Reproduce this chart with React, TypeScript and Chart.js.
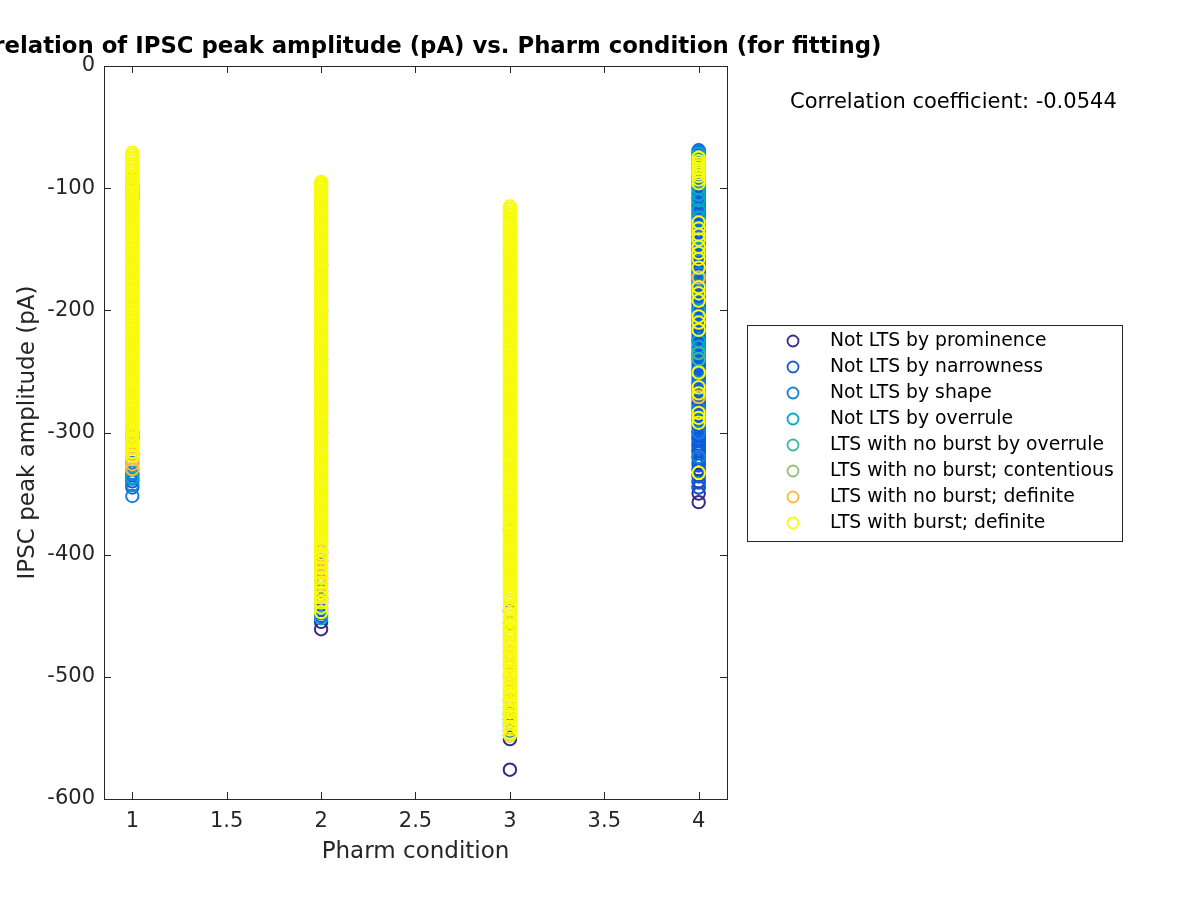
import React, { useEffect, useRef } from "react";
import { Chart, registerables } from "chart.js";

Chart.register(...registerables);

// ---------- data ----------
const seriesNames = [
  "Not LTS by prominence",
  "Not LTS by narrowness",
  "Not LTS by shape",
  "Not LTS by overrule",
  "LTS with no burst by overrule",
  "LTS with no burst; contentious",
  "LTS with no burst; definite",
  "LTS with burst; definite",
];
const seriesColors = [
  "#352a87",
  "#0f5cdd",
  "#1481d6",
  "#06a7c6",
  "#38b99e",
  "#92bf73",
  "#fbbc3c",
  "#f9fb0e",
];
const conditions = [1, 2, 3, 4];
const xTicks = [1, 1.5, 2, 2.5, 3, 3.5, 4];
const yTicks = [0, -100, -200, -300, -400, -500, -600];
const correlationText = "Correlation coefficient: -0.0544";
const chartTitle = "Correlation of IPSC peak amplitude (pA) vs. Pharm condition (for fitting)";
const xLabel = "Pharm condition";
const yLabel = "IPSC peak amplitude (pA)";

// Pharm condition 1
const prominenceC1 = [-300, -303];
const narrowC1 = [-100, -108, -305, -318, -335, -340, -345];
const shapeC1 = [-98, -106, -325, -333, -338, -343, -352];
const overruleC1 = [-103, -330, -337];
const noBurstOverruleC1 = [-104];
const contentiousC1 = [-110];
const noBurstDefC1 = [-92, -94, -117, -305, -312, -318, -322, -326, -330];
const burstC1 = [
  -71, -73, -75, -76, -78, -80, -82, -85, -86, -88, -90, -91, -94, -96, -97, -99, -101, -103, -105, -107,
  -108, -110, -112, -114, -116, -118, -119, -121, -123, -125, -127, -129, -131, -132, -134, -136, -138, -140,
  -141, -143, -145, -147, -149, -151, -153, -154, -156, -158, -160, -162, -164, -165, -167, -169, -171, -173,
  -175, -177, -178, -180, -182, -184, -186, -188, -189, -191, -193, -195, -197, -199, -200, -202, -204, -206,
  -208, -210, -212, -213, -215, -217, -219, -221, -223, -224, -226, -228, -230, -232, -234, -236, -237, -239,
  -241, -243, -245, -247, -248, -250, -252, -254, -256, -258, -260, -261, -263, -265, -267, -269, -271, -272,
  -274, -276, -278, -280, -282, -284, -285, -287, -289, -291, -293, -295, -296, -298, -300, -302, -305, -307,
  -310, -313, -316, -319,
];

// Pharm condition 2
const prominenceC2 = [-455, -461];
const narrowC2 = [-163, -398, -420, -436, -445, -450];
const shapeC2 = [-200, -240, -300, -405, -440, -448];
const overruleC2 = [-430, -452];
const noBurstOverruleC2 = [-415, -438];
const contentiousC2 = [-412];
const noBurstDefC2 = [-97, -277, -396, -400, -404, -407, -410, -414, -418, -425, -433];
const burstC2 = [
  -95, -97, -99, -100, -102, -104, -106, -108, -110, -112, -113, -115, -117, -119, -121, -123, -125, -126,
  -128, -130, -132, -134, -136, -138, -139, -141, -143, -145, -147, -149, -151, -152, -154, -156, -158, -160,
  -162, -164, -165, -167, -169, -171, -173, -175, -177, -178, -180, -182, -184, -186, -188, -190, -191, -193,
  -195, -197, -199, -201, -203, -204, -206, -208, -210, -212, -214, -216, -217, -219, -221, -223, -225, -227,
  -229, -230, -232, -234, -236, -238, -240, -242, -243, -245, -247, -249, -251, -253, -255, -256, -258, -260,
  -262, -264, -266, -268, -269, -271, -273, -275, -277, -279, -281, -282, -284, -286, -288, -290, -292, -294,
  -295, -297, -299, -301, -303, -305, -307, -308, -310, -312, -314, -316, -318, -320, -321, -323, -325, -327,
  -329, -331, -333, -334, -336, -338, -340, -342, -344, -346, -347, -349, -351, -353, -355, -357, -359, -360,
  -362, -364, -366, -368, -370, -372, -373, -375, -377, -379, -381, -383, -385, -386, -388, -390, -392, -395,
  -399, -402, -406, -411, -415, -419, -423, -428, -431, -435, -439, -443, -447,
];

// Pharm condition 3
const prominenceC3 = [-548, -551, -576];
const narrowC3 = [-446, -447, -535, -540];
const shapeC3 = [-380, -456, -520, -544];
const overruleC3 = [-530, -538];
const noBurstOverruleC3 = [-500, -535];
const contentiousC3 = [-490, -528];
const noBurstDefC3 = [-455, -462, -468, -474, -480, -486, -492, -498, -505, -512, -518, -525, -532];
const burstC3 = [
  -115, -117, -119, -121, -122, -124, -126, -128, -130, -132, -134, -135, -137, -139, -141, -143, -145, -147,
  -148, -150, -152, -154, -156, -158, -160, -161, -163, -165, -167, -169, -171, -173, -174, -176, -178, -180,
  -182, -184, -186, -187, -189, -191, -193, -195, -197, -199, -200, -202, -204, -206, -208, -210, -212, -213,
  -215, -217, -219, -221, -223, -225, -226, -228, -230, -232, -234, -236, -238, -239, -241, -243, -245, -247,
  -249, -251, -252, -254, -256, -258, -260, -262, -264, -265, -267, -269, -271, -273, -275, -277, -278, -280,
  -282, -284, -286, -288, -290, -291, -293, -295, -297, -299, -301, -303, -304, -306, -308, -310, -312, -314,
  -316, -317, -319, -321, -323, -325, -327, -329, -330, -332, -334, -336, -338, -340, -342, -343, -345, -347,
  -349, -351, -353, -355, -356, -358, -360, -362, -364, -366, -368, -369, -371, -373, -375, -377, -379, -381,
  -382, -384, -386, -388, -390, -392, -394, -395, -397, -399, -401, -403, -405, -407, -408, -410, -412, -414,
  -416, -418, -420, -421, -423, -425, -427, -429, -432, -434, -437, -440, -443, -445, -448, -451, -454, -457,
  -459, -462, -465, -468, -471, -473, -476, -479, -482, -485, -487, -490, -493, -496, -499, -501, -504, -507,
  -510, -513, -515, -518, -521, -524, -527, -529, -532, -535, -538, -541, -543, -546, -548,
];

// Pharm condition 4
const prominenceC4 = [-300, -305, -310, -315, -320, -325, -330, -335, -340, -345, -350, -357];
const narrowC4 = [
  -69, -71, -73, -75, -77, -79, -80, -82, -84, -86, -88, -90, -92, -94, -95, -97, -99, -101, -103, -105, -107,
  -108, -110, -112, -114, -116, -118, -120, -121, -123, -125, -127, -129, -131, -133, -134, -136, -138, -140,
  -142, -144, -146, -147, -149, -151, -153, -155, -157, -159, -160, -162, -164, -166, -168, -170, -172, -173,
  -175, -177, -179, -181, -183, -185, -186, -188, -190, -192, -194, -196, -198, -199, -201, -203, -205, -207,
  -209, -211, -212, -214, -216, -218, -220, -222, -224, -225, -227, -229, -231, -233, -235, -237, -238, -240,
  -242, -244, -246, -248, -250, -251, -253, -255, -257, -259, -261, -263, -264, -266, -268, -270, -272, -274,
  -276, -277, -279, -281, -283, -285, -287, -289, -290, -292, -294, -296, -298, -300, -302, -303, -305, -307,
  -309, -311, -313, -315, -317, -320, -323, -327, -331, -336, -341, -345,
];
const shapeC4 = [-70, -95, -115, -140, -170, -190, -210, -240, -260, -280, -300, -320];
const overruleC4 = [-72, -76, -100, -105, -110, -118, -124, -150, -175, -200, -225, -230, -235, -250];
const noBurstOverruleC4 = [-235, -240];
const contentiousC4: number[] = [];
const noBurstDefC4 = [-173, -271];
const burstC4 = [
  -75, -78, -80, -82, -84, -86, -88, -90, -93, -96, -128, -133, -138, -142, -148, -153, -158, -165, -181, -186,
  -192, -205, -210, -216, -251, -263, -268, -284, -288, -292, -333,
];

const seriesByCondition: number[][][] = [
  [prominenceC1, prominenceC2, prominenceC3, prominenceC4],
  [narrowC1, narrowC2, narrowC3, narrowC4],
  [shapeC1, shapeC2, shapeC3, shapeC4],
  [overruleC1, overruleC2, overruleC3, overruleC4],
  [noBurstOverruleC1, noBurstOverruleC2, noBurstOverruleC3, noBurstOverruleC4],
  [contentiousC1, contentiousC2, contentiousC3, contentiousC4],
  [noBurstDefC1, noBurstDefC2, noBurstDefC3, noBurstDefC4],
  [burstC1, burstC2, burstC3, burstC4],
];

const AXIS_COLOR = "#262626";
const FONT = "'DejaVu Sans', sans-serif";

const decorPlugin = {
  id: "matlabDecor",
  afterDraw(chart: any) {
    const { ctx, chartArea: a, scales } = chart;
    const xs = scales.x;
    const ys = scales.y;
    ctx.save();
    // frame
    ctx.strokeStyle = AXIS_COLOR;
    ctx.lineWidth = 1;
    ctx.strokeRect(Math.round(a.left) + 0.5, Math.round(a.top) + 0.5, Math.round(a.right - a.left), Math.round(a.bottom - a.top));
    // inward ticks
    const tl = 7;
    ctx.beginPath();
    xTicks.forEach((v) => {
      const px = Math.round(xs.getPixelForValue(v)) + 0.5;
      ctx.moveTo(px, a.bottom);
      ctx.lineTo(px, a.bottom - tl);
      ctx.moveTo(px, a.top);
      ctx.lineTo(px, a.top + tl);
    });
    yTicks.forEach((v) => {
      const py = Math.round(ys.getPixelForValue(v)) + 0.5;
      ctx.moveTo(a.left, py);
      ctx.lineTo(a.left + tl, py);
      ctx.moveTo(a.right, py);
      ctx.lineTo(a.right - tl, py);
    });
    ctx.stroke();

    // title
    const cx = (a.left + a.right) / 2;
    ctx.fillStyle = "#000000";
    ctx.font = `bold 22.8px ${FONT}`;
    ctx.textAlign = "center";
    ctx.textBaseline = "middle";
    ctx.fillText(chartTitle, cx, 47);

    // axis labels
    ctx.fillStyle = AXIS_COLOR;
    ctx.font = `23px ${FONT}`;
    ctx.fillText(xLabel, cx, 852);
    ctx.save();
    ctx.translate(28, (a.top + a.bottom) / 2);
    ctx.rotate(-Math.PI / 2);
    ctx.fillText(yLabel, 0, 0);
    ctx.restore();

    // correlation text
    ctx.fillStyle = "#000000";
    ctx.font = `21px ${FONT}`;
    ctx.textAlign = "left";
    ctx.fillText(correlationText, 790, 103);

    // legend
    const lx = 747, ly = 325, lw = 375, lh = 216;
    ctx.fillStyle = "#ffffff";
    ctx.fillRect(lx, ly, lw, lh);
    ctx.strokeStyle = AXIS_COLOR;
    ctx.lineWidth = 1;
    ctx.strokeRect(lx + 0.5, ly + 0.5, lw, lh);
    ctx.font = `18.8px ${FONT}`;
    ctx.textBaseline = "middle";
    seriesNames.forEach((name, i) => {
      const rowY = 341 + i * 26;
      ctx.beginPath();
      ctx.arc(793, rowY, 5.5, 0, Math.PI * 2);
      ctx.strokeStyle = seriesColors[i];
      ctx.lineWidth = 1.8;
      ctx.stroke();
      ctx.fillStyle = "#000000";
      ctx.fillText(name, 830, rowY);
    });
    ctx.restore();
  },
};

export default function App() {
  const canvasRef = useRef<HTMLCanvasElement | null>(null);

  useEffect(() => {
    document.body.style.margin = "0";
    const canvas = canvasRef.current;
    if (!canvas) return;

    const datasets = seriesNames.map((name, i) => {
      const data: { x: number; y: number }[] = [];
      seriesByCondition[i].forEach((vals, ci) => {
        vals.forEach((v) => data.push({ x: conditions[ci], y: v }));
      });
      return {
        label: name,
        data,
        order: seriesNames.length - 1 - i,
        showLine: false,
        pointStyle: "circle" as const,
        pointRadius: 6.2,
        pointBorderWidth: 2,
        borderColor: seriesColors[i],
        pointBorderColor: seriesColors[i],
        backgroundColor: "rgba(0,0,0,0)",
        pointBackgroundColor: "rgba(0,0,0,0)",
      };
    });

    const chart = new Chart(canvas, {
      type: "scatter",
      data: { datasets },
      options: {
        responsive: false,
        animation: false,
        devicePixelRatio: 1,
        layout: { padding: { top: 66, right: 473, bottom: 0, left: 0 } },
        plugins: {
          legend: { display: false },
          title: { display: false },
          tooltip: { enabled: false },
        },
        scales: {
          x: {
            type: "linear",
            min: 0.85,
            max: 4.15,
            grid: { display: false, drawTicks: false },
            border: { display: false },
            afterBuildTicks: (scale: any) => {
              scale.ticks = xTicks.map((v) => ({ value: v }));
            },
            afterFit: (scale: any) => {
              scale.height = 101;
            },
            ticks: {
              color: AXIS_COLOR,
              font: { family: FONT, size: 21 },
              padding: 10,
              maxRotation: 0,
              autoSkip: false,
              callback: (v: any) => String(v),
            },
          },
          y: {
            type: "linear",
            min: -600,
            max: 0,
            grid: { display: false, drawTicks: false },
            border: { display: false },
            afterBuildTicks: (scale: any) => {
              scale.ticks = yTicks.map((v) => ({ value: v }));
            },
            afterFit: (scale: any) => {
              scale.width = 104;
            },
            ticks: {
              color: AXIS_COLOR,
              font: { family: FONT, size: 21 },
              padding: 9,
              autoSkip: false,
              callback: (v: any) => String(v),
            },
          },
        },
      },
      plugins: [decorPlugin],
    } as any);

    return () => chart.destroy();
  }, []);

  return (
    <div style={{ position: "absolute", left: 0, top: 0, width: 1200, height: 900, background: "#ffffff" }}>
      <canvas ref={canvasRef} width={1200} height={900} style={{ width: 1200, height: 900, display: "block" }} />
    </div>
  );
}
